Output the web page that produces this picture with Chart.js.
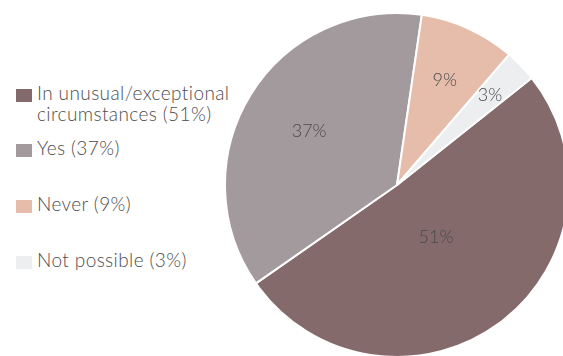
<!DOCTYPE html>
<html>
<head>
<meta charset="utf-8">
<script src="https://cdn.jsdelivr.net/npm/chart.js@4.4.1/dist/chart.umd.min.js"></script>
<style>
  html, body { margin: 0; padding: 0; background: #fff; width: 563px; height: 356px; overflow: hidden; }
  #wrap { position: relative; width: 563px; height: 356px; }
  #pie { position: absolute; left: 224px; top: 12px; }
  #legend { position: absolute; left: 16px; top: 0; font-family: Lato, sans-serif; font-weight: 300; font-size: 19px; letter-spacing: 0.4px; color: #4d4d4d; }
  .item { position: absolute; left: 0; white-space: nowrap; }
  .box { position: absolute; left: 0; width: 16px; height: 13px; }
  .txt { position: absolute; left: 21px; top: -7px; line-height: 21px; }
</style>
</head>
<body>
<div id="wrap">
  <div id="legend"></div>
  <canvas id="pie" width="346" height="346"></canvas>
</div>
<script>
// Survey answers, share of respondents in percent
const categories = ['In unusual/exceptional circumstances', 'Yes', 'Never', 'Not possible'];
const legendLines = [['In unusual/exceptional', 'circumstances (51%)'], ['Yes (37%)'], ['Never (9%)'], ['Not possible (3%)']];
const shares = [51, 37, 9, 3];
const colors = ['#856a6b', '#a39a9d', '#e5bdaa', '#eceef0'];

// legend rows (top of the square, in px) and label distance from centre
const legendTops = [89, 144, 200, 256];
const labelRadius = [0.38, 0.6, 0.67, 0.75];

// html legend on the left
const legend = document.getElementById('legend');
legendLines.forEach((lines, i) => {
    const item = document.createElement('div');
    item.className = 'item';
    item.style.top = legendTops[i] + 'px';
    const box = document.createElement('div');
    box.className = 'box';
    box.style.background = colors[i];
    const txt = document.createElement('div');
    txt.className = 'txt';
    txt.innerHTML = lines.join('<br>');
    item.appendChild(box);
    item.appendChild(txt);
    legend.appendChild(item);
});

// percent labels inside the slices
const sliceLabels = {
    id: 'sliceLabels',
    afterDatasetsDraw(chart) {
        const ctx = chart.ctx;
        const meta = chart.getDatasetMeta(0);
        ctx.save();
        ctx.font = '300 18px Lato, sans-serif';
        ctx.fillStyle = '#4a4a4a';
        ctx.textAlign = 'center';
        ctx.textBaseline = 'middle';
        meta.data.forEach((arc, i) => {
            const p = arc.getProps(['x', 'y', 'startAngle', 'endAngle', 'outerRadius']);
            const mid = (p.startAngle + p.endAngle) / 2;
            const r = p.outerRadius * labelRadius[i];
            ctx.fillText(shares[i] + '%', p.x + Math.cos(mid) * r, p.y + Math.sin(mid) * r);
        });
        ctx.restore();
    }
};

new Chart(document.getElementById('pie').getContext('2d'), {
    type: 'pie',
    data: {
        labels: categories,
        datasets: [{
            data: shares,
            backgroundColor: colors,
            borderColor: '#ffffff',
            borderWidth: 2
        }]
    },
    options: {
        responsive: false,
        animation: false,
        rotation: 51.5,
        layout: { padding: 0 },
        plugins: {
            legend: { display: false },
            tooltip: { enabled: false }
        }
    },
    plugins: [sliceLabels]
});
</script>
</body>
</html>
